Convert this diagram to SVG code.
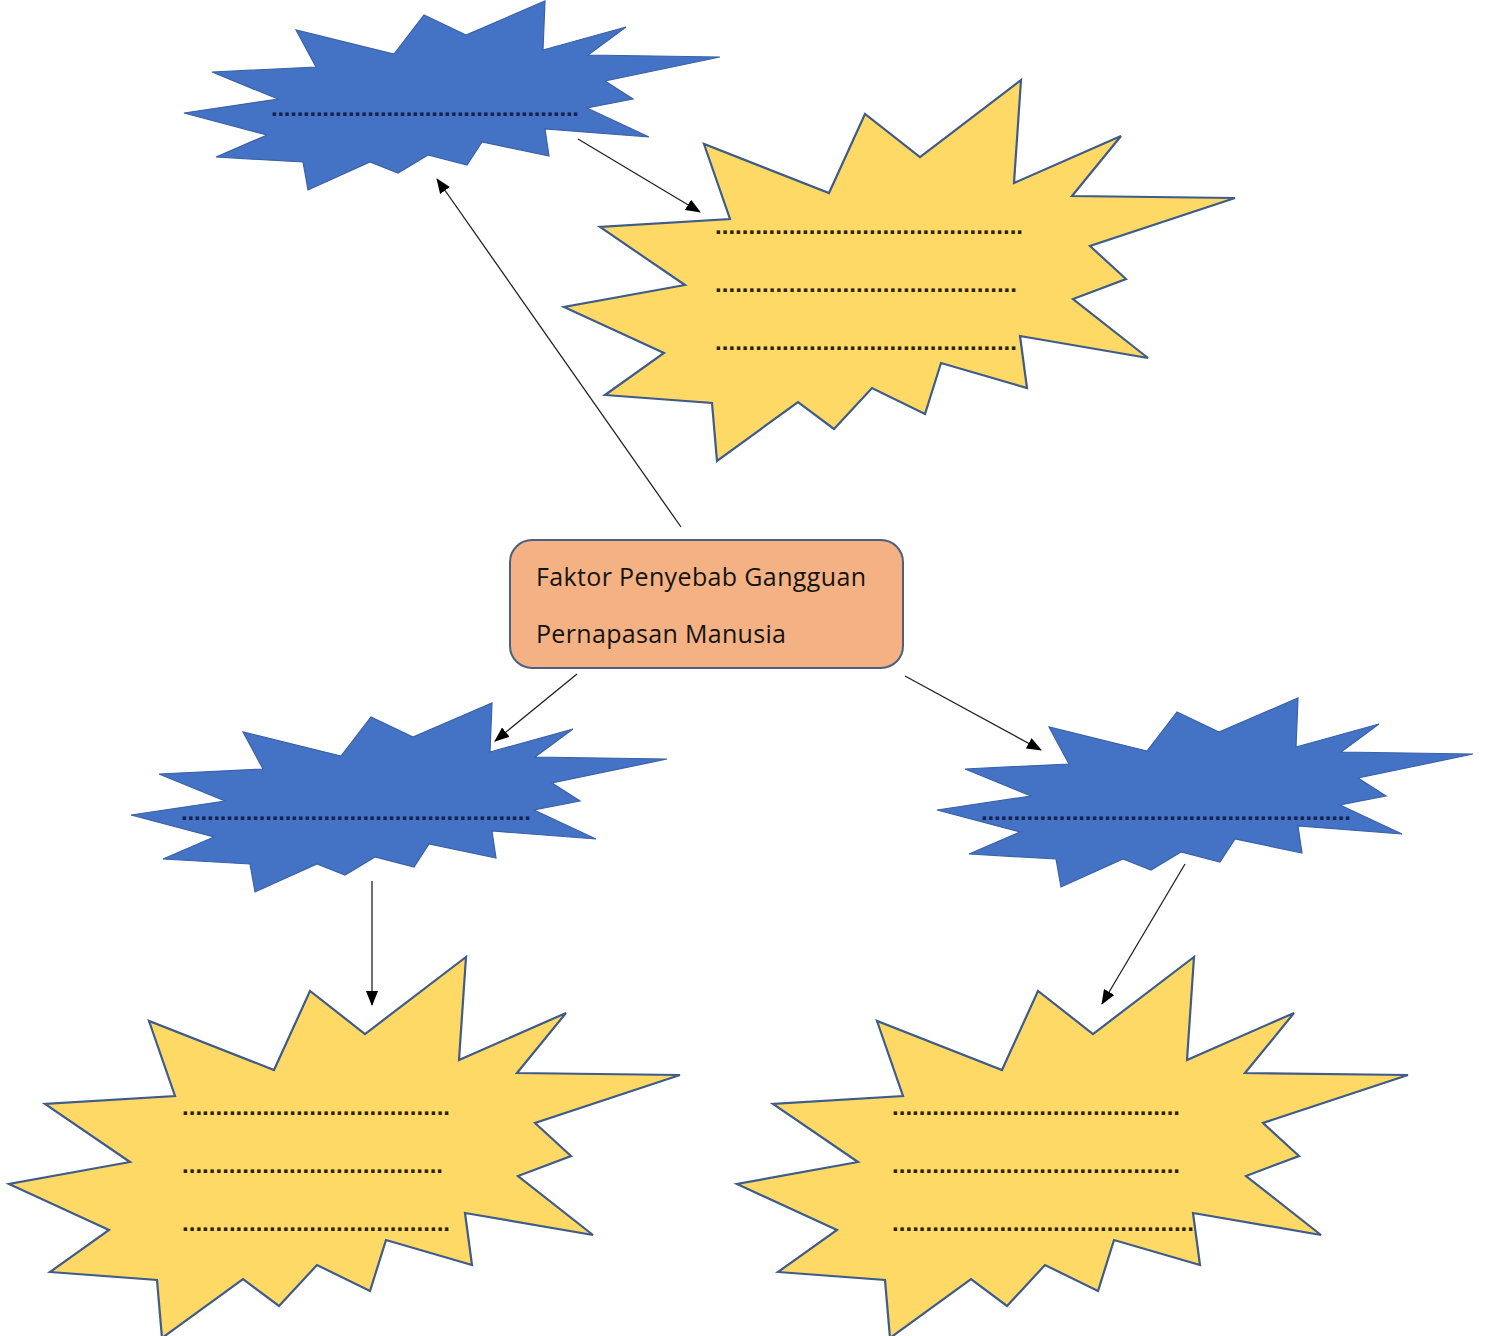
<svg xmlns="http://www.w3.org/2000/svg" xmlns:xlink="http://www.w3.org/1999/xlink" width="1486" height="1336" viewBox="0 0 1486 1336">
<style>
.yellow{fill:#FFD966;stroke:#3E5B8A;stroke-width:2.2;stroke-linejoin:miter}
.blue{fill:#4472C4;stroke:#3A62A8;stroke-width:1.2}
.dotsB{font-family:"Liberation Sans",Arial,sans-serif;font-weight:bold;font-size:24px;fill:#14234F}
.dotsY{font-family:"Liberation Sans",Arial,sans-serif;font-weight:bold;font-size:24px;fill:#2B2100}
.label{font-family:"Open Sans","Liberation Sans",sans-serif;font-size:25px;fill:#141414}
.conn{stroke:#222;stroke-width:1.3;fill:none;marker-end:url(#arrow)}
</style>
<defs>
<marker id="arrow" markerWidth="15" markerHeight="12" refX="14" refY="6" orient="auto" markerUnits="userSpaceOnUse">
<path d="M0,0 L15,6 L0,12 Z" fill="#000"/>
</marker>
<path id="yStar" d="M466,957 L459,1060 L566,1013 L517,1073 L680,1075 L535,1123 L571,1156 L518,1176 L593,1235 L465,1213 L472,1265 L386,1240 L370,1291 L317,1265 L279,1306 L243,1279 L162,1338 L157,1280 L50,1272 L109,1230 L9,1184 L130,1162 L45,1104 L175,1096 L149,1021 L274,1070 L310,991 L365,1034 Z"/>
<path id="bStar" d="M545,1 L543,50 L626,27 L588,55 L720,57 L605,81 L633,99 L587,108 L649,137 L545,129 L549,156 L482,142 L467,165 L428,155 L398,173 L370,162 L308,190 L303,162 L216,157 L267,135 L184,113 L278,99 L212,72 L316,67 L296,30 L394,54 L424,15 L466,35 Z"/>
</defs>
<rect width="1486" height="1336" fill="#FFFFFF"/>

<g id="node-blue-top">
<use xlink:href="#bStar" class="blue"/>
<text class="dotsB" x="271" y="116" textLength="308" lengthAdjust="spacing">................................................</text>
</g>

<g id="node-yellow-top">
<use xlink:href="#yStar" class="yellow" transform="translate(555,-877)"/>
<text class="dotsY" x="715" y="234" textLength="308" lengthAdjust="spacing">..............................................</text>
<text class="dotsY" x="715" y="292" textLength="302" lengthAdjust="spacing">.............................................</text>
<text class="dotsY" x="715" y="350" textLength="302" lengthAdjust="spacing">.............................................</text>
</g>

<g id="node-center">
<rect x="510" y="540" width="393" height="128" rx="22" ry="22" fill="#F4B183" stroke="#4A5F82" stroke-width="2"/>
<text class="label" x="536" y="586" textLength="330" lengthAdjust="spacing">Faktor Penyebab Gangguan</text>
<text class="label" x="536" y="643" textLength="250" lengthAdjust="spacing">Pernapasan Manusia</text>
</g>

<g id="node-blue-left">
<use xlink:href="#bStar" class="blue" transform="translate(-53,702)"/>
<text class="dotsB" x="181" y="820" textLength="350" lengthAdjust="spacing">......................................................</text>
</g>

<g id="node-blue-right">
<use xlink:href="#bStar" class="blue" transform="translate(753,697)"/>
<text class="dotsB" x="981" y="820" textLength="370" lengthAdjust="spacing">.........................................................</text>
</g>

<g id="node-yellow-left">
<use xlink:href="#yStar" class="yellow"/>
<text class="dotsY" x="182" y="1115" textLength="268" lengthAdjust="spacing">........................................</text>
<text class="dotsY" x="182" y="1173" textLength="261" lengthAdjust="spacing">.......................................</text>
<text class="dotsY" x="182" y="1231" textLength="268" lengthAdjust="spacing">........................................</text>
</g>

<g id="node-yellow-right">
<use xlink:href="#yStar" class="yellow" transform="translate(728,0)"/>
<text class="dotsY" x="892" y="1115" textLength="288" lengthAdjust="spacing">...........................................</text>
<text class="dotsY" x="892" y="1173" textLength="288" lengthAdjust="spacing">...........................................</text>
<text class="dotsY" x="892" y="1231" textLength="302" lengthAdjust="spacing">.............................................</text>
</g>

<g id="connectors">
<path class="conn" d="M681,527 L437,179"/>
<path class="conn" d="M578,139 L700,212"/>
<path class="conn" d="M577,674 L495,741"/>
<path class="conn" d="M905,676 L1041,750"/>
<path class="conn" d="M372,881 L372,1005"/>
<path class="conn" d="M1185,864 L1102,1004"/>
</g>
</svg>
